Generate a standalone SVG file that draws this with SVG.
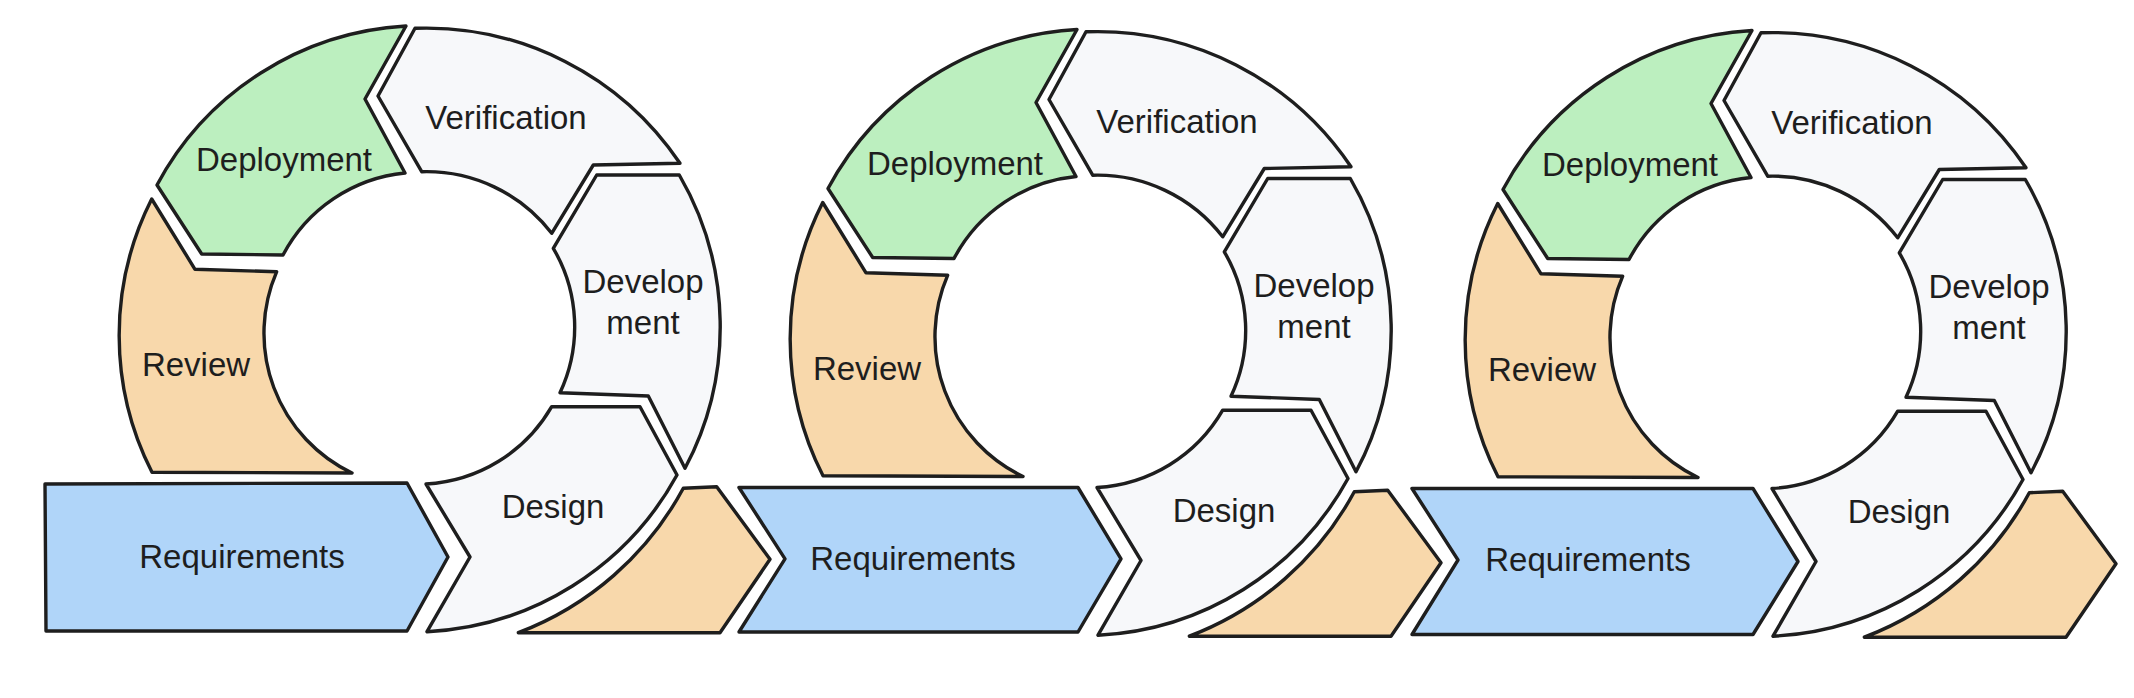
<svg xmlns="http://www.w3.org/2000/svg" width="2134" height="698" viewBox="0 0 2134 698">
<style>
.s{stroke:#1e1e1e;stroke-width:3.4;stroke-linejoin:round;stroke-linecap:round}
.g{fill:#bcefbf}
.o{fill:#f8d8ab}
.b{fill:#b0d5f9}
.w{fill:#f7f8fa}
text{font-family:"Liberation Sans",Arial,sans-serif;font-size:33px;fill:#1e1e1e;text-anchor:middle}
</style>
<rect width="2134" height="698" fill="#ffffff"/>

<g id="cycle1">
  <g id="c1-deployment"><path class="s g" d="M406 26 L365 99 L405 173 A155 155 0 0 0 283 255 L201.7 254 L157 185 A302 302 0 0 1 406 26 Z"/><text x="284" y="171">Deployment</text></g>
  <g id="c1-verification"><path class="s w" d="M415 28.3 L378 96 L421.7 171.7 A158 158 0 0 1 551.7 233.3 L593.3 165 L680 163.3 A306 306 0 0 0 415 28.3 Z"/><text x="506" y="129">Verification</text></g>
  <g id="c1-development"><path class="s w" d="M553.3 248.3 L596.7 175 L679.3 175 A302 302 0 0 1 685 468.3 L648.3 396 L560 392.7 A155 155 0 0 0 553.3 248.3 Z"/><text x="643" y="293">Develop</text><text x="643" y="334">ment</text></g>
  <g id="c1-design"><path class="s w" d="M426 484 L470 557 L427 631.7 A302 302 0 0 0 677 475 L640 406.7 L551.7 406.7 A155 155 0 0 1 426 484 Z"/><text x="553" y="518">Design</text></g>
  <g id="c1-review"><path class="s o" d="M151.7 199 L195 269.3 L276.7 271.7 A155 155 0 0 0 352 473 L152 472.3 A302 302 0 0 1 151.7 199 Z"/><text x="196" y="376">Review</text></g>
  <g id="c1-requirements"><path class="s b" d="M45 484 L407 483 L448 557 L407 631 L46 631 Z"/><text x="242" y="568">Requirements</text></g>
  <g id="c1-handoff"><path class="s o" d="M518.3 632.7 A314 314 0 0 0 683.3 488.3 L716.7 486.7 L770 559.3 L720 632.7 Z"/></g>
</g>

<g id="cycle2" transform="translate(671 3.5)">
  <g id="c2-deployment"><path class="s g" d="M406 26 L365 99 L405 173 A155 155 0 0 0 283 255 L201.7 254 L157 185 A302 302 0 0 1 406 26 Z"/><text x="284" y="171">Deployment</text></g>
  <g id="c2-verification"><path class="s w" d="M415 28.3 L378 96 L421.7 171.7 A158 158 0 0 1 551.7 233.3 L593.3 165 L680 163.3 A306 306 0 0 0 415 28.3 Z"/><text x="506" y="129">Verification</text></g>
  <g id="c2-development"><path class="s w" d="M553.3 248.3 L596.7 175 L679.3 175 A302 302 0 0 1 685 468.3 L648.3 396 L560 392.7 A155 155 0 0 0 553.3 248.3 Z"/><text x="643" y="293">Develop</text><text x="643" y="334">ment</text></g>
  <g id="c2-design"><path class="s w" d="M426 484 L470 557 L427 631.7 A302 302 0 0 0 677 475 L640 406.7 L551.7 406.7 A155 155 0 0 1 426 484 Z"/><text x="553" y="518">Design</text></g>
  <g id="c2-review"><path class="s o" d="M151.7 199 L195 269.3 L276.7 271.7 A155 155 0 0 0 352 473 L152 472.3 A302 302 0 0 1 151.7 199 Z"/><text x="196" y="376">Review</text></g>
  <g id="c2-requirements"><path class="s b" d="M68 484 L407 484 L450 555.3 L407 628.5 L68 628.5 L114 555.3 Z"/><text x="242" y="566">Requirements</text></g>
  <g id="c2-handoff"><path class="s o" d="M518.3 632.7 A314 314 0 0 0 683.3 488.3 L716.7 486.7 L770 559.3 L720 632.7 Z"/></g>
</g>

<g id="cycle3" transform="translate(1346 4.5)">
  <g id="c3-deployment"><path class="s g" d="M406 26 L365 99 L405 173 A155 155 0 0 0 283 255 L201.7 254 L157 185 A302 302 0 0 1 406 26 Z"/><text x="284" y="171">Deployment</text></g>
  <g id="c3-verification"><path class="s w" d="M415 28.3 L378 96 L421.7 171.7 A158 158 0 0 1 551.7 233.3 L593.3 165 L680 163.3 A306 306 0 0 0 415 28.3 Z"/><text x="506" y="129">Verification</text></g>
  <g id="c3-development"><path class="s w" d="M553.3 248.3 L596.7 175 L679.3 175 A302 302 0 0 1 685 468.3 L648.3 396 L560 392.7 A155 155 0 0 0 553.3 248.3 Z"/><text x="643" y="293">Develop</text><text x="643" y="334">ment</text></g>
  <g id="c3-design"><path class="s w" d="M426 484 L470 557 L427 631.7 A302 302 0 0 0 677 475 L640 406.7 L551.7 406.7 A155 155 0 0 1 426 484 Z"/><text x="553" y="518">Design</text></g>
  <g id="c3-review"><path class="s o" d="M151.7 199 L195 269.3 L276.7 271.7 A155 155 0 0 0 352 473 L152 472.3 A302 302 0 0 1 151.7 199 Z"/><text x="196" y="376">Review</text></g>
  <g id="c3-requirements"><path class="s b" d="M66 484 L407 484 L452 557 L407 630 L66 630 L112 555.5 Z"/><text x="242" y="566">Requirements</text></g>
  <g id="c3-handoff"><path class="s o" d="M518.3 632.7 A314 314 0 0 0 683.3 488.3 L716.7 486.7 L770 559.3 L720 632.7 Z"/></g>
</g>
</svg>
